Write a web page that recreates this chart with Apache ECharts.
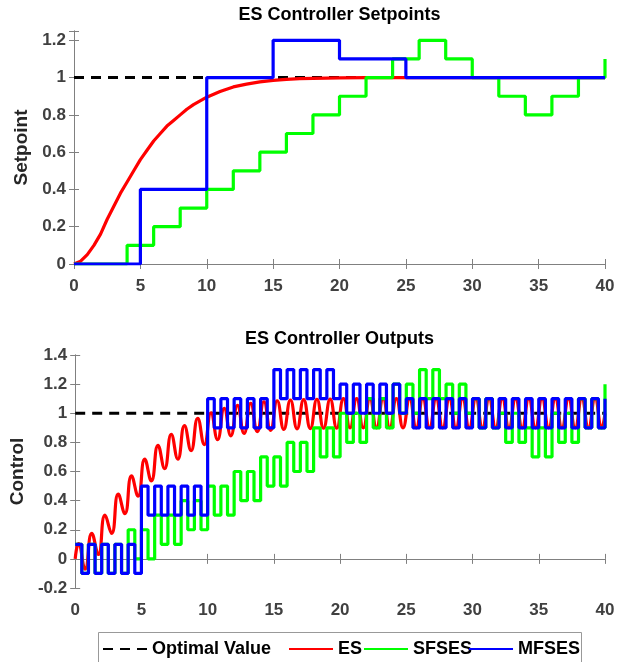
<!DOCTYPE html>
<html><head><meta charset="utf-8">
<script src="https://cdn.jsdelivr.net/npm/echarts@6/dist/echarts.min.js"></script>
<style>html,body{margin:0;padding:0;background:#fff}#c{width:622px;height:662px}</style>
</head><body><div id="c"></div>
<script>
// ---------- data ----------
const titles = ['ES Controller Setpoints', 'ES Controller Outputs'];
const yNames = ['Setpoint', 'Control'];
const seriesNames = ['Optimal Value', 'ES', 'SFSES', 'MFSES'];

// optimal value line
const optimalT = [0, 40];
const optimalV = [1, 1];

// top: setpoints
const esSetT = [0,0.5,1,1.5,2,2.5,3,3.5,4,4.5,5,5.5,6,6.5,7,7.5,8,8.5,9,9.5,10,11,12,13,14,15,16,17,18,20,22,25,40];
const esSetV = [0,0.015,0.05,0.1,0.16,0.24,0.31,0.38,0.44,0.5,0.56,0.61,0.66,0.7,0.74,0.77,0.8,0.83,0.855,0.875,0.895,0.925,0.95,0.965,0.977,0.985,0.99,0.994,0.996,0.998,1,1,1];
const sfSetT = [0,4,6,8,10,12,14,16,18,20,22,24,26,28,30,32,34,36,38,40];
const sfSetV = [0,0.1,0.2,0.3,0.4,0.5,0.6,0.7,0.8,0.9,1.0,1.1,1.2,1.1,1.0,0.9,0.8,0.9,1.0,1.1];
const mfSetT = [0,5,10,15,20,25,40];
const mfSetV = [0,0.4,1,1.2,1.1,1,1];

// bottom: outputs
const esOutT = [0,0.25,0.75,1.25,1.75,2.25,2.75,3.25,3.75,4.25,4.75,5.25,5.75,6.25,6.75,7.25,7.75,8.25,8.75,9.25,9.75,
  10.25,10.75,11.25,11.75,12.25,12.75,13.25,13.75,14.25,14.75,15.25,15.75,16.25,16.75,17.25,17.75,18.25,18.75,19.25,19.75,
  20.25,20.75,21.25,21.75,22.25,22.75,23.25,23.75,24.25,24.75,25.25,25.75,26.25,26.75,27.25,27.75,28.25,28.75,29.25,29.75,
  30.25,30.75,31.25,31.75,32.25,32.75,33.25,33.75,34.25,34.75,35.25,35.75,36.25,36.75,37.25,37.75,38.25,38.75,39.25,39.75,40];
const esOutV = [0,0.105,-0.07,0.175,0.03,0.30,0.175,0.445,0.31,0.57,0.43,0.685,0.535,0.78,0.62,0.855,0.685,0.915,0.743,0.965,0.785,
  1.003,0.818,1.033,0.845,1.054,0.862,1.068,0.874,1.079,0.883,1.086,0.889,1.091,0.893,1.094,0.895,1.096,0.897,1.097,0.898,
  1.1,0.9,1.1,0.9,1.1,0.9,1.1,0.9,1.1,0.9,1.1,0.9,1.1,0.9,1.1,0.9,1.1,0.9,1.1,0.9,
  1.1,0.9,1.1,0.9,1.1,0.9,1.1,0.9,1.1,0.9,1.1,0.9,1.1,0.9,1.1,0.9,1.1,0.9,1.1,0.9,1.0];

const outT = [0,0.5,1,1.5,2,2.5,3,3.5,4,4.5,5,5.5,6,6.5,7,7.5,8,8.5,9,9.5,
  10,10.5,11,11.5,12,12.5,13,13.5,14,14.5,15,15.5,16,16.5,17,17.5,18,18.5,19,19.5,
  20,20.5,21,21.5,22,22.5,23,23.5,24,24.5,25,25.5,26,26.5,27,27.5,28,28.5,29,29.5,
  30,30.5,31,31.5,32,32.5,33,33.5,34,34.5,35,35.5,36,36.5,37,37.5,38,38.5,39,39.5,40];
const sfOutV = [0.1,-0.1,0.1,-0.1,0.1,-0.1,0.1,-0.1,
  0.2,0,0.2,0, 0.3,0.1,0.3,0.1, 0.4,0.2,0.4,0.2, 0.5,0.3,0.5,0.3, 0.6,0.4,0.6,0.4,
  0.7,0.5,0.7,0.5, 0.8,0.6,0.8,0.6, 0.9,0.7,0.9,0.7, 1.0,0.8,1.0,0.8, 1.1,0.9,1.1,0.9,
  1.2,1.0,1.2,1.0, 1.3,1.1,1.3,1.1, 1.2,1.0,1.2,1.0, 1.1,0.9,1.1,0.9, 1.0,0.8,1.0,0.8,
  0.9,0.7,0.9,0.7, 1.0,0.8,1.0,0.8, 1.1,0.9,1.1,0.9, 1.2];
const mfOutV = [0.1,-0.1,0.1,-0.1,0.1,-0.1,0.1,-0.1,0.1,-0.1,
  0.5,0.3,0.5,0.3,0.5,0.3,0.5,0.3,0.5,0.3,
  1.1,0.9,1.1,0.9,1.1,0.9,1.1,0.9,1.1,0.9,
  1.3,1.1,1.3,1.1,1.3,1.1,1.3,1.1,1.3,1.1,
  1.2,1.0,1.2,1.0,1.2,1.0,1.2,1.0,1.2,1.0,
  1.1,0.9,1.1,0.9,1.1,0.9,1.1,0.9,1.1,0.9,
  1.1,0.9,1.1,0.9,1.1,0.9,1.1,0.9,1.1,0.9,
  1.1,0.9,1.1,0.9,1.1,0.9,1.1,0.9,1.1,0.9, 1.1];

// axes
const xMin = 0, xMax = 40, xStep = 5;
const yTop = {min: 0, max: 1.25, step: 0.2};
const yBot = {min: -0.2, max: 1.4, step: 0.2};

// ---------- chart ----------
const FONT = '"Liberation Sans", Arial, Helvetica, sans-serif';
const AX = '#808080';
const LBL = '#404040';
const zip = (t, v) => t.map((x, i) => [x, v[i]]);
const fmt = (step) => (v) => {
  const k = v / step;
  return Math.abs(k - Math.round(k)) < 1e-6 ? String(+v.toFixed(1)) : '';
};

function xAxisPair(grid) {
  return [
    {type: 'value', gridIndex: grid, position: 'bottom', min: xMin, max: xMax, interval: xStep,
     axisLine: {show: true, lineStyle: {color: AX, width: 1}},
     axisTick: {show: true, inside: true, length: 5, lineStyle: {color: AX}},
     axisLabel: {color: LBL, fontFamily: FONT, fontWeight: 'bold', fontSize: 17, margin: 14},
     splitLine: {show: false}},
    {type: 'value', gridIndex: grid, position: 'top', min: xMin, max: xMax, interval: xStep,
     axisLine: {show: true, lineStyle: {color: AX, width: 1}},
     axisTick: {show: true, inside: true, length: 5, lineStyle: {color: AX}},
     axisLabel: {show: false}, splitLine: {show: false}}
  ];
}
function yAxisPair(grid, r, name) {
  return [
    {type: 'value', gridIndex: grid, position: 'left', min: r.min, max: r.max, interval: r.step,
     name: name, nameLocation: 'middle', nameGap: 39,
     nameTextStyle: {color: '#262626', fontFamily: FONT, fontWeight: 'bold', fontSize: 19},
     axisLine: {show: true, lineStyle: {color: AX, width: 1}},
     axisTick: {show: true, inside: true, length: 5, lineStyle: {color: AX}},
     axisLabel: {color: LBL, fontFamily: FONT, fontWeight: 'bold', fontSize: 17, margin: 8, formatter: fmt(r.step)},
     splitLine: {show: false}},
    {type: 'value', gridIndex: grid, position: 'right', min: r.min, max: r.max, interval: r.step,
     axisLine: {show: true, lineStyle: {color: AX, width: 1}},
     axisTick: {show: true, inside: true, length: 5, lineStyle: {color: AX}},
     axisLabel: {show: false}, splitLine: {show: false}}
  ];
}

function line(name, data, xi, yi, color, extra) {
  return Object.assign({
    type: 'line', name: name, data: data, xAxisIndex: xi, yAxisIndex: yi,
    showSymbol: false, symbol: 'none', animation: false, clip: true,
    lineStyle: {color: color, width: 3.2}, itemStyle: {color: color},
    emphasis: {disabled: true}
  }, extra || {});
}

const chart = echarts.init(document.getElementById('c'), null, {renderer: 'canvas'});

const legendStyle = {color: '#000', fontFamily: FONT, fontWeight: 'bold', fontSize: 18};
const legendLefts = [102, 288, 363, 468];

chart.setOption({
  animation: false,
  backgroundColor: '#fff',
  grid: [
    {left: 74, top: 31, width: 531, height: 233},
    {left: 74, top: 355, width: 531, height: 233}
  ],
  xAxis: [...xAxisPair(0), ...xAxisPair(1)],
  yAxis: [...yAxisPair(0, yTop, yNames[0]), ...yAxisPair(1, yBot, yNames[1])],
  legend: seriesNames.map((n, i) => ({
    data: [n], left: legendLefts[i], top: 640, padding: 0,
    itemWidth: 44, itemHeight: 16, itemGap: 0, selectedMode: false,
    itemStyle: {opacity: 0, borderWidth: 0},
    textStyle: legendStyle
  })),
  graphic: [
    {type: 'text', x: 339.5, y: 15.5, style: {text: titles[0], font: 'bold 18px ' + FONT, fill: '#000', textAlign: 'center', textVerticalAlign: 'middle'}},
    {type: 'text', x: 339.5, y: 339.5, style: {text: titles[1], font: 'bold 18px ' + FONT, fill: '#000', textAlign: 'center', textVerticalAlign: 'middle'}},
    {type: 'rect', shape: {x: 98.5, y: 632.5, width: 483, height: 40}, style: {fill: 'none', stroke: '#999', lineWidth: 1}, silent: true}
  ],
  series: [
    line(seriesNames[0], zip(optimalT, optimalV), 0, 0, '#000', {lineStyle: {color: '#000', width: 3, type: [10, 7]}}),
    line(seriesNames[1], zip(esSetT, esSetV), 0, 0, '#ff0000'),
    line(seriesNames[2], zip(sfSetT, sfSetV), 0, 0, '#00ff00', {step: 'end'}),
    line(seriesNames[3], zip(mfSetT, mfSetV), 0, 0, '#0000ff', {step: 'end'}),
    line(seriesNames[0], zip(optimalT, optimalV), 2, 2, '#000', {lineStyle: {color: '#000', width: 3, type: [10, 7]}}),
    line(seriesNames[1], zip(esOutT, esOutV), 2, 2, '#ff0000', {smooth: 0.5}),
    line(seriesNames[2], zip(outT, sfOutV), 2, 2, '#00ff00', {step: 'end'}),
    line(seriesNames[3], zip(outT, mfOutV), 2, 2, '#0000ff', {step: 'end'})
  ]
});
</script>
</body></html>
